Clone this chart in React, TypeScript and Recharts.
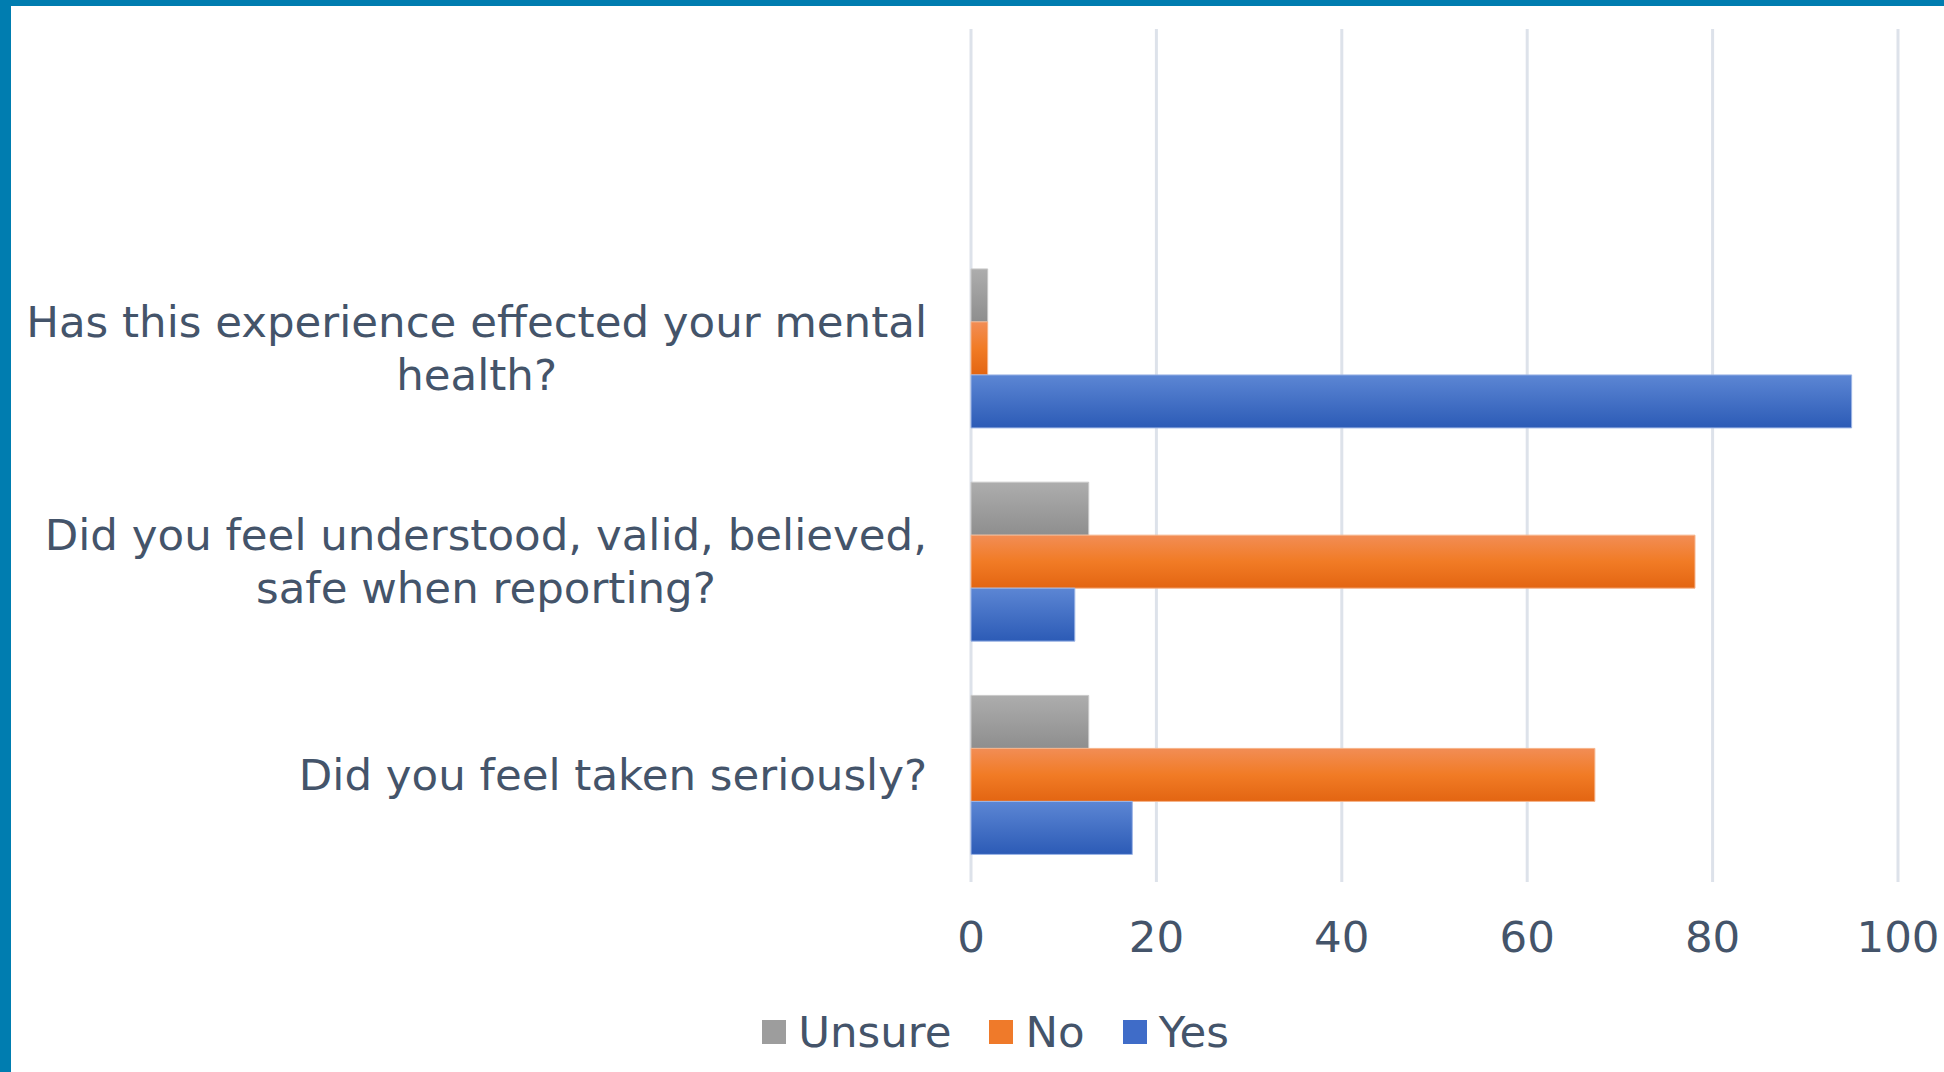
import React from "react";
import {
  BarChart,
  Bar,
  XAxis,
  YAxis,
  CartesianGrid,
  Legend,
} from "recharts";

// top row is an empty category, as in the source sheet
const questions = [
  "",
  "Has this experience effected your mental\nhealth?",
  "Did you feel understood, valid, believed,\nsafe when reporting?",
  "Did you feel taken seriously?",
];
const unsureValues = [null, 1.8, 12.7, 12.7];
const noValues = [null, 1.8, 78.1, 67.3];
const yesValues = [null, 95, 11.2, 17.4];
const xTicks = [0, 20, 40, 60, 80, 100];

const seriesList = [
  { key: "unsure", label: "Unsure", fill: "url(#gUnsure)", stroke: "#c9c9c9", swatch: "#9d9d9d" },
  { key: "no", label: "No", fill: "url(#gNo)", stroke: "#f6b48a", swatch: "#ef7a2a" },
  { key: "yes", label: "Yes", fill: "url(#gYes)", stroke: "#9db5e6", swatch: "#3f6cc8" },
];

const chartData = questions.map((q, i) => ({
  name: q,
  unsure: unsureValues[i],
  no: noValues[i],
  yes: yesValues[i],
}));

const FONT = "'DejaVu Sans', sans-serif";
const TEXT = "#44546a";

const QuestionTick = (props: any) => {
  const { x, y, payload } = props;
  if (!payload.value) return null;
  return (
    <foreignObject x={x - 940} y={y - 90} width={940} height={180}>
      <div
        style={{
          display: "flex",
          height: "100%",
          alignItems: "center",
          justifyContent: "flex-end",
        }}
      >
        <div
          style={{
            textAlign: "center",
            whiteSpace: "pre-line",
            fontFamily: FONT,
            fontSize: 43.5,
            lineHeight: "53px",
            color: TEXT,
          }}
        >
          {payload.value}
        </div>
      </div>
    </foreignObject>
  );
};

const LegendRow = () => (
  <div
    style={{
      display: "flex",
      justifyContent: "center",
      alignItems: "center",
      height: 80,
      paddingLeft: 36,
      boxSizing: "border-box",
      paddingTop: 0,
      fontFamily: FONT,
      fontSize: 43.5,
      color: TEXT,
    }}
  >
    {seriesList.map((s, i) => (
      <div
        key={s.key}
        style={{ display: "flex", alignItems: "center", marginLeft: i === 0 ? 0 : 38 }}
      >
        <span
          style={{
            display: "inline-block",
            width: 24,
            height: 24,
            background: s.swatch,
            marginRight: 12,
          }}
        />
        <span>{s.label}</span>
      </div>
    ))}
  </div>
);

const App: React.FC = () => {
  return (
    <div
      style={{
        position: "fixed",
        left: 0,
        top: 0,
        width: 1944,
        height: 1072,
        background: "#007db0",
      }}
    >
      <div
        style={{
          position: "absolute",
          left: 11,
          top: 6,
          width: 1933,
          height: 1066,
          background: "#ffffff",
        }}
      >
        <BarChart
          width={1933}
          height={1066}
          data={chartData}
          layout="vertical"
          margin={{ top: 23, right: 46, left: 0, bottom: 0 }}
          barCategoryGap="12.5%"
          barGap={0}
        >
          <defs>
            <linearGradient id="gUnsure" x1="0" y1="0" x2="0" y2="1">
              <stop offset="0%" stopColor="#adadad" />
              <stop offset="100%" stopColor="#8e8e8e" />
            </linearGradient>
            <linearGradient id="gNo" x1="0" y1="0" x2="0" y2="1">
              <stop offset="0%" stopColor="#f28d55" />
              <stop offset="50%" stopColor="#f17b25" />
              <stop offset="100%" stopColor="#e36512" />
            </linearGradient>
            <linearGradient id="gYes" x1="0" y1="0" x2="0" y2="1">
              <stop offset="0%" stopColor="#5c86d4" />
              <stop offset="100%" stopColor="#2c5bb6" />
            </linearGradient>
          </defs>
          <CartesianGrid horizontal={false} stroke="#dde2ea" strokeWidth={3} />
          <XAxis
            type="number"
            domain={[0, 100]}
            ticks={xTicks}
            axisLine={false}
            tickLine={false}
            tickSize={0}
            tickMargin={39}
            height={110}
            tick={{ fill: TEXT, fontSize: 43.5, fontFamily: FONT }}
          />
          <YAxis
            type="category"
            dataKey="name"
            width={960}
            axisLine={false}
            tickLine={false}
            tickSize={0}
            tickMargin={44}
            interval={0}
            tick={<QuestionTick />}
          />
          <Legend verticalAlign="bottom" height={80} content={<LegendRow />} wrapperStyle={{ left: 0, width: 1933 }} />
          {seriesList.map((s) => (
            <Bar
              key={s.key}
              dataKey={s.key}
              name={s.label}
              fill={s.fill}
              stroke={s.stroke}
              strokeWidth={1}
              isAnimationActive={false}
            />
          ))}
        </BarChart>
      </div>
    </div>
  );
};

export default App;
